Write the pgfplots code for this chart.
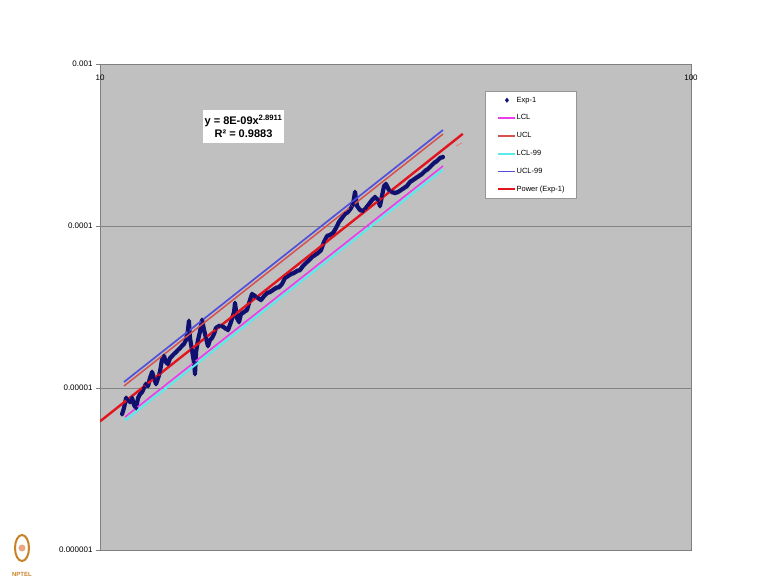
\documentclass[border=0pt]{standalone}
\usepackage{fontspec}
\setmainfont{Liberation Sans}
\usepackage{pgfplots}
\usepackage{pgfplotstable}
\pgfplotsset{compat=1.18}
\definecolor{bgsilver}{RGB}{192,192,192}
\definecolor{axgray}{RGB}{128,128,128}
\definecolor{gridgray}{RGB}{132,132,132}
\definecolor{navyc}{RGB}{16,16,112}
\definecolor{lclc}{RGB}{235,60,235}
\definecolor{uclc}{RGB}{214,80,80}
\definecolor{lclnn}{RGB}{90,235,235}
\definecolor{uclnn}{RGB}{80,80,220}
\definecolor{powc}{RGB}{228,20,30}
\definecolor{logoc}{RGB}{200,130,40}

\pgfplotstableread{
x y
10.90 6.91e-6
10.98 7.53e-6
11.07 8.68e-6
11.15 8.43e-6
11.24 8.20e-6
11.33 8.68e-6
11.42 7.85e-6
11.51 7.53e-6
11.60 8.68e-6
11.69 9.18e-6
11.78 9.45e-6
11.87 1.000e-5
11.96 1.059e-5
12.06 1.029e-5
12.15 1.153e-5
12.25 1.255e-5
12.34 1.153e-5
12.44 1.059e-5
12.54 1.153e-5
12.63 1.255e-5
12.73 1.489e-5
12.83 1.576e-5
12.93 1.447e-5
13.03 1.407e-5
13.14 1.532e-5
13.24 1.576e-5
13.34 1.621e-5
13.45 1.668e-5
13.55 1.716e-5
13.66 1.766e-5
13.76 1.817e-5
13.87 1.869e-5
13.98 1.979e-5
14.09 2.281e-5
14.14 2.592e-5
14.20 2.036e-5
14.31 1.716e-5
14.42 1.447e-5
14.48 1.220e-5
14.54 1.668e-5
14.65 1.979e-5
14.76 2.217e-5
14.88 2.629e-5
15.00 2.281e-5
15.11 2.036e-5
15.23 1.817e-5
15.35 1.979e-5
15.47 2.036e-5
15.59 2.154e-5
15.71 2.346e-5
15.90 2.414e-5
16.09 2.414e-5
16.27 2.346e-5
16.47 2.281e-5
16.66 2.555e-5
16.86 2.946e-5
16.92 3.346e-5
17.05 2.705e-5
17.19 2.555e-5
17.32 2.863e-5
17.53 2.946e-5
17.73 3.031e-5
17.94 3.492e-5
18.08 3.803e-5
18.29 3.696e-5
18.51 3.593e-5
18.73 3.492e-5
18.95 3.696e-5
19.17 3.858e-5
19.39 3.913e-5
19.62 4.026e-5
19.85 4.142e-5
20.09 4.201e-5
20.32 4.385e-5
20.56 4.775e-5
20.80 4.913e-5
21.05 5.055e-5
21.29 5.128e-5
21.54 5.275e-5
21.80 5.351e-5
22.05 5.663e-5
22.31 5.909e-5
22.58 6.167e-5
22.84 6.436e-5
23.11 6.621e-5
23.38 6.812e-5
23.66 7.110e-5
23.93 7.966e-5
24.22 8.675e-5
24.50 8.801e-5
24.79 9.054e-5
25.08 9.720e-5
25.37 1.059e-4
25.67 1.120e-4
25.97 1.186e-4
26.28 1.220e-4
26.59 1.292e-4
26.80 1.367e-4
27.01 1.621e-4
27.22 1.329e-4
27.54 1.255e-4
27.86 1.238e-4
28.19 1.292e-4
28.52 1.367e-4
28.86 1.447e-4
29.20 1.510e-4
29.54 1.447e-4
29.77 1.329e-4
30.00 1.532e-4
30.24 1.766e-4
30.47 1.817e-4
30.83 1.668e-4
31.20 1.621e-4
31.56 1.599e-4
31.93 1.621e-4
32.31 1.668e-4
32.69 1.716e-4
33.07 1.766e-4
33.46 1.869e-4
33.86 1.923e-4
34.25 1.979e-4
34.66 2.036e-4
35.06 2.094e-4
35.47 2.185e-4
35.89 2.248e-4
36.31 2.346e-4
36.74 2.449e-4
37.17 2.519e-4
37.61 2.629e-4
38.05 2.667e-4
}\expdata

\begin{document}
\begin{tikzpicture}
\path[use as bounding box] (-100pt,-32pt) rectangle (661pt,550pt);
\begin{axis}[
  at={(0pt,0pt)}, anchor=south west,
  scale only axis, width=591pt, height=486pt,
  xmode=log, ymode=log,
  xmin=10, xmax=100, ymin=1e-6, ymax=1e-3,
  axis background/.style={fill=bgsilver},
  axis line style={color=axgray, line width=0.8pt},
  xminorticks=false, yminorticks=false,
  xtick={10,100}, xticklabels={10,100},
  ytick={1e-6,1e-5,1e-4,1e-3},
  yticklabels={0.000001,0.00001,0.0001,0.001},
  xtick pos=upper, xticklabel pos=upper,
  ytick pos=left,
  tick align=outside, major tick length=4pt,
  xtick style={draw=none},
  ytick style={color=axgray, line width=0.8pt},
  xticklabel style={font=\fontsize{8}{9.6}\selectfont, anchor=north, yshift=-11pt},
  yticklabel style={font=\fontsize{8}{9.6}\selectfont},
  ymajorgrids=true,
  grid style={color=gridgray, line width=0.9pt},
  legend cell align=left,
  legend style={at={(0.6514,0.9444)}, anchor=north west,
    draw={rgb,255:red,150;green,150;blue,150}, fill=white,
    font=\fontsize{7.5}{9}\selectfont,
    row sep=10.8pt, inner xsep=12pt, inner ysep=5.5pt,
    nodes={inner sep=0pt, text height=5.4pt, text depth=1.6pt}},
]
\addplot[navyc, line width=4.2pt, line join=round, line cap=round, forget plot] table {\expdata};
\addplot[only marks, mark=diamond*, mark size=2.2pt, color=navyc] table {\expdata};
\addlegendentry{Exp-1}
\addplot[color=lclc, line width=1.6pt] coordinates {(11.02,6.621e-6) (38.05,2.346e-4)};
\addlegendentry{LCL}
\addplot[color=uclc, line width=1.5pt] coordinates {(10.98,1.029e-5) (38.05,3.696e-4)};
\addlegendentry{UCL}
\addplot[color=lclnn, line width=2pt] coordinates {(11.02,6.302e-6) (38.05,2.232e-4)};
\addlegendentry{LCL-99}
\addplot[color=uclnn, line width=1.7pt] coordinates {(10.98,1.089e-5) (38.05,3.914e-4)};
\addlegendentry{UCL-99}
\addplot[color=powc, line width=2.4pt] coordinates {(10,6.224e-6) (41.1,3.706e-4)};
\addlegendentry{Power (Exp-1)}
\addplot[color=uclc!70!white, line width=1pt, forget plot] coordinates {(40.03,3.118e-4) (40.98,3.253e-4)};
\node[fill=white, inner xsep=2pt, inner ysep=5pt, align=center,
  font=\fontsize{11}{13.3}\selectfont\bfseries]
  at (rel axis cs:0.2428,0.8714) {y = 8E-09x\textsuperscript{2.8911}\\R² = 0.9883};
\end{axis}
\draw[logoc, line width=2pt] (-78pt,2pt) ellipse (7pt and 13pt);
\fill[pink!60!logoc] (-78pt,2pt) circle (3.5pt);
\node[logoc, font=\fontsize{6}{7}\selectfont\bfseries] at (-78pt,-24pt) {NPTEL};
\end{tikzpicture}
\end{document}
